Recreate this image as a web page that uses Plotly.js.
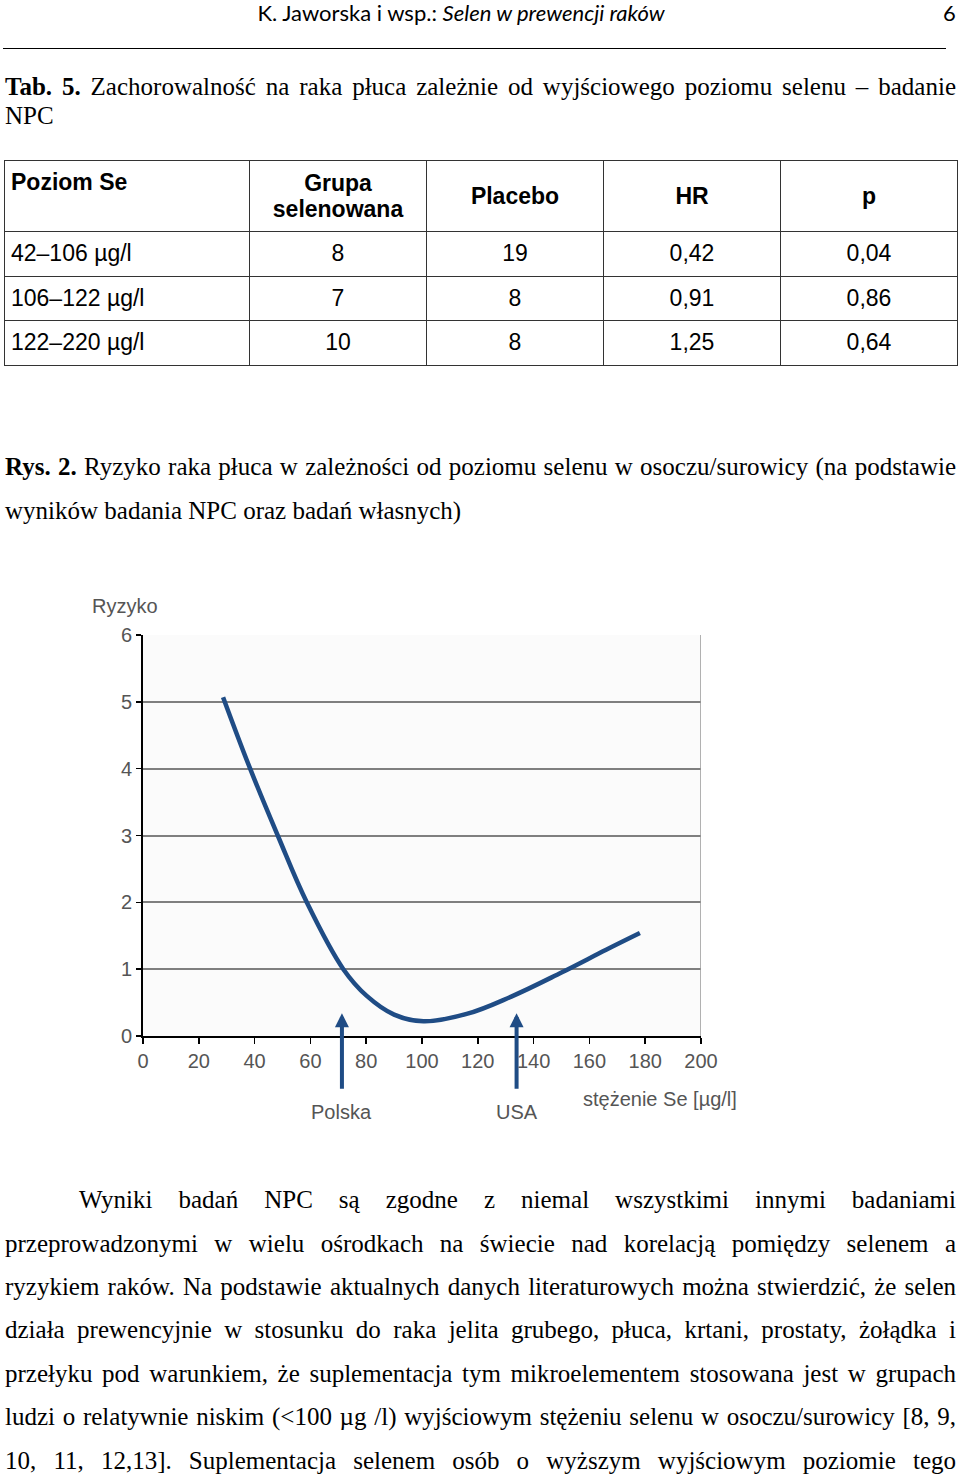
<!DOCTYPE html>
<html>
<head>
<meta charset="utf-8">
<script src="https://cdn.plot.ly/plotly-3.0.1.min.js"></script>
<style>
  body { margin: 0; background: #fff; }
  #page { position: relative; width: 960px; height: 1476px; overflow: hidden; }
  .abs { position: absolute; }
  .serif { font-family: "Liberation Serif", "Times New Roman", serif; font-size: 25px; color: #000; line-height: 30px; white-space: nowrap; }
  .jl { left: 5px; width: 951px; }
  #hdr { top: 1px; left: 0; width: 922px; text-align: center; font-family: Lato, "Open Sans", sans-serif; font-size: 22px; line-height: 24px; }
  #pg { top: 1px; left: 943px; font-family: Lato, sans-serif; font-size: 22px; line-height: 24px; }
  #rule { top: 48px; left: 3px; width: 943px; height: 0; border-top: 1.5px solid #000; }
  #tab { position: absolute; left: 4px; top: 160px; width: 953px; table-layout: fixed; border-collapse: collapse; font-family: "Liberation Sans", Arial, sans-serif; font-size: 23px; }
  #tab td { border: 1.5px solid #333; text-align: center; vertical-align: middle; padding: 0 6px; }
  #tab tr.h td { font-weight: bold; height: 70px; line-height: 26px; }
  #tab tr.r td { height: 43.6px; }
  #tab td.first { text-align: left; }
  #tab tr.h td.first { vertical-align: top; padding-top: 8px; height: 62px; }
  #chart { position: absolute; left: 0; top: 580px; width: 960px; height: 560px; }
</style>
</head>
<body>
<div id="page">
  <div id="hdr" class="abs">K. Jaworska i wsp.: <i>Selen w prewencji raków</i></div>
  <div id="pg" class="abs">6</div>
  <div id="rule" class="abs"></div>

  <div class="abs serif jl just" style="top:72px"><b>Tab. 5.</b> Zachorowalność na raka płuca zależnie od wyjściowego poziomu selenu – badanie</div>
  <div class="abs serif" style="top:101px; left:5px">NPC</div>

  <table id="tab"></table>

  <div class="abs serif jl just" style="top:452px"><b>Rys. 2.</b> Ryzyko raka płuca w zależności od poziomu selenu w osoczu/surowicy (na podstawie</div>
  <div class="abs serif" style="top:496px; left:5px">wyników badania NPC oraz badań własnych)</div>

  <div id="chart"></div>

  <div class="abs serif just" style="top:1185px; left:79px; width:877px">Wyniki badań NPC są zgodne z niemal wszystkimi innymi badaniami</div>
  <div class="abs serif jl just" style="top:1229px">przeprowadzonymi w wielu ośrodkach na świecie nad korelacją pomiędzy selenem a</div>
  <div class="abs serif jl just" style="top:1272px">ryzykiem raków. Na podstawie aktualnych danych literaturowych można stwierdzić, że selen</div>
  <div class="abs serif jl just" style="top:1315px">działa prewencyjnie w stosunku do raka jelita grubego, płuca, krtani, prostaty, żołądka i</div>
  <div class="abs serif jl just" style="top:1359px">przełyku pod warunkiem, że suplementacja tym mikroelementem stosowana jest w grupach</div>
  <div class="abs serif jl just" style="top:1402px">ludzi o relatywnie niskim (&lt;100 µg /l) wyjściowym stężeniu selenu w osoczu/surowicy [8, 9,</div>
  <div class="abs serif jl just" style="top:1446px">10, 11, 12,13]. Suplementacja selenem osób o wyższym wyjściowym poziomie tego</div>
</div>

<script>
// table 5
var tableHead = ['Poziom Se', 'Grupa<br>selenowana', 'Placebo', 'HR', 'p'];
var seLevels = ['42–106 µg/l', '106–122 µg/l', '122–220 µg/l'];
var selenGroup = ['8', '7', '10'];
var placebo = ['19', '8', '8'];
var hazardRatio = ['0,42', '0,91', '1,25'];
var pValue = ['0,04', '0,86', '0,64'];

var colWidths = [245, 177, 177, 177, 177];
var tab = document.getElementById('tab');
var html = '<colgroup>';
colWidths.forEach(function (w) { html += '<col style="width:' + w + 'px">'; });
html += '</colgroup><tr class="h">';
tableHead.forEach(function (t, i) {
  html += '<td' + (i === 0 ? ' class="first"' : '') + '>' + t + '</td>';
});
html += '</tr>';
for (var i = 0; i < seLevels.length; i++) {
  html += '<tr class="r"><td class="first">' + seLevels[i] + '</td><td>' + selenGroup[i] +
    '</td><td>' + placebo[i] + '</td><td>' + hazardRatio[i] + '</td><td>' + pValue[i] + '</td></tr>';
}
tab.innerHTML = html;

// justify single lines by spreading word spacing
document.querySelectorAll('.just').forEach(function (el) {
  var target = el.clientWidth;
  var span = document.createElement('span');
  while (el.firstChild) span.appendChild(el.firstChild);
  el.appendChild(span);
  var natural = span.getBoundingClientRect().width;
  var gaps = (el.textContent.match(/ /g) || []).length;
  if (gaps) el.style.wordSpacing = ((target - natural) / gaps) + 'px';
});

// figure 2: lung cancer risk vs plasma selenium
var seConc = [28.7, 38.4, 48.3, 58.7, 71.8, 80.2, 90, 100.5, 116, 132, 150, 166, 178.1];
var risk = [5.07, 4.0, 3.0, 2.0, 1.0, 0.6, 0.32, 0.22, 0.33, 0.59, 0.95, 1.29, 1.54];
var xTicks = [0, 20, 40, 60, 80, 100, 120, 140, 160, 180, 200];
var yTicks = [0, 1, 2, 3, 4, 5, 6];
var countries = ['Polska', 'USA'];
var countrySe = [71.3, 133.9];

var blue = '#1f4c85';
var sans = '"Liberation Sans", Arial, sans-serif';
var grey = '#555';

var trace = {
  x: seConc,
  y: risk,
  mode: 'lines',
  line: { color: blue, width: 4.5, shape: 'spline', smoothing: 1.1 },
  hoverinfo: 'x+y'
};

var annotations = [
  { text: 'Ryzyko', xref: 'paper', yref: 'paper', x: -0.095, y: 1.04, xanchor: 'left', yanchor: 'bottom',
    showarrow: false, font: { family: sans, size: 20, color: grey } },
  { text: 'stężenie Se [µg/l]', xref: 'paper', yref: 'paper', x: 0.785, y: -0.125, xanchor: 'left', yanchor: 'top',
    showarrow: false, font: { family: sans, size: 20, color: grey } }
];
countries.forEach(function (c, i) {
  annotations.push({
    x: countrySe[i], y: 0.34, ax: countrySe[i], ay: -0.81, xref: 'x', yref: 'y', axref: 'x', ayref: 'y',
    text: '', showarrow: true, arrowhead: 2, arrowsize: 0.7, arrowwidth: 4, arrowcolor: blue
  });
  annotations.push({
    text: c, x: countrySe[i], y: -0.19, xref: 'x', yref: 'paper', yanchor: 'middle', showarrow: false,
    font: { family: sans, size: 20, color: grey }
  });
});

var layout = {
  width: 960,
  height: 560,
  margin: { l: 143, r: 259, t: 55, b: 104 },
  paper_bgcolor: 'rgba(0,0,0,0)',
  plot_bgcolor: '#fbfbfb',
  showlegend: false,
  font: { family: sans, size: 20, color: grey },
  xaxis: {
    range: [0, 200], tickvals: xTicks, ticks: 'outside', ticklen: 6, tickwidth: 1.5, tickcolor: '#000',
    showline: true, linecolor: '#000', linewidth: 2, showgrid: false, zeroline: false, fixedrange: true
  },
  yaxis: {
    range: [0, 6], tickvals: yTicks, ticks: 'outside', ticklen: 5, tickwidth: 1.5, tickcolor: '#000',
    showline: true, linecolor: '#000', linewidth: 2, gridcolor: '#7f7f7f', gridwidth: 2, zeroline: false,
    fixedrange: true
  },
  shapes: [
    { type: 'line', xref: 'x', yref: 'paper', x0: 200, x1: 200, y0: 0, y1: 1, line: { color: '#999', width: 1.5 } }
  ],
  annotations: annotations
};

Plotly.newPlot('chart', [trace], layout, { displayModeBar: false, staticPlot: true });
</script>
</body>
</html>
